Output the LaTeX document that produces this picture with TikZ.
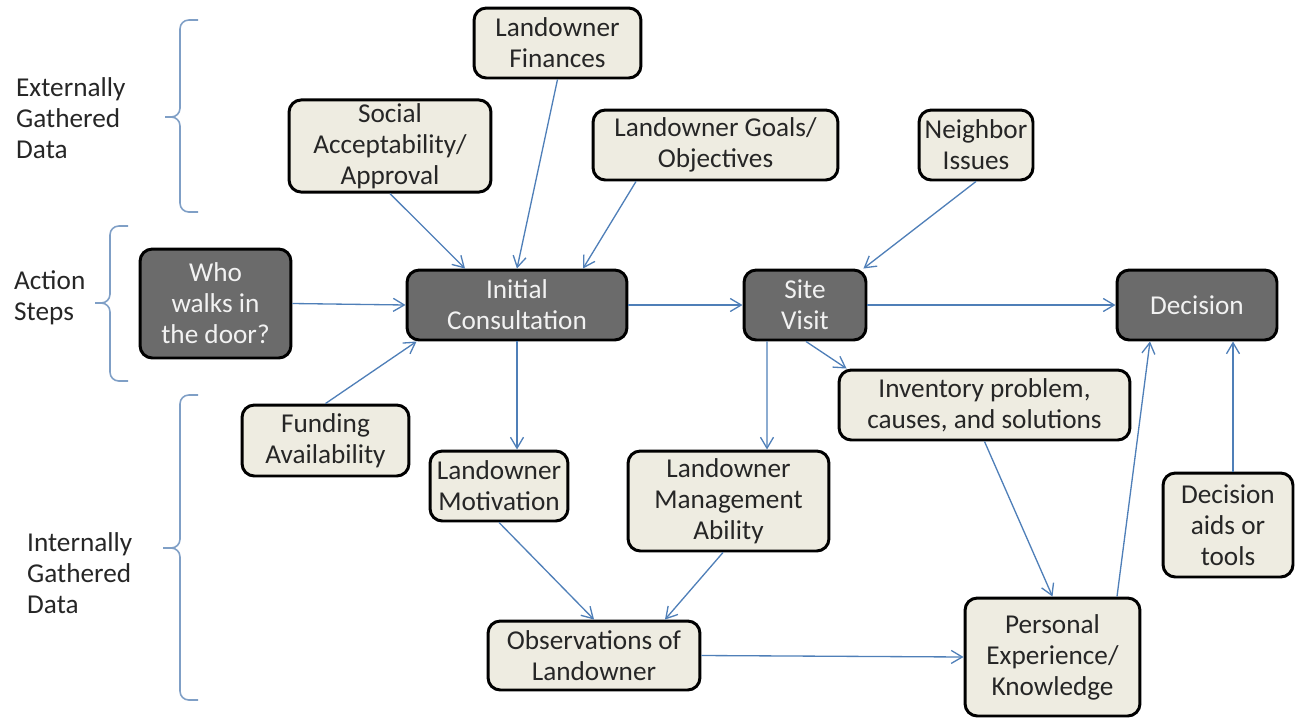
\documentclass[tikz,border=0pt]{standalone}
\usepackage{fontspec}
\setmainfont{Carlito}
\usepackage{tikz}
\usetikzlibrary{arrows.meta,calc,positioning}
\definecolor{cink}{HTML}{262626}
\definecolor{cpale}{HTML}{EEECE1}
\definecolor{cdark}{HTML}{6B6B6B}
\definecolor{clight}{HTML}{F2F2F2}
\definecolor{cline}{HTML}{4F7FB8}
\definecolor{cbrace}{HTML}{7F9FC6}

\begin{document}
\begin{tikzpicture}[x=0.02cm, y=-0.02cm,
    box/.style={draw=black, line width=1.7pt, rounded corners=7pt, fill=cpale,
      text=cink, align=center, inner sep=2pt, font=\fontsize{15.5}{17.6}\selectfont},
    act/.style={box, fill=cdark, text=clight},
    lab/.style={anchor=west, align=left, text=cink, font=\fontsize{15.5}{17.6}\selectfont},
    br/.style={draw=cbrace, line width=0.9pt, rounded corners=5pt},
    ar/.style={-{Straight Barb[length=2.2mm, width=2.6mm]}, cline, line width=0.75pt}]
  \useasboundingbox (0,0) rectangle (1296,721);

  % action steps
  \node[act, minimum width=3.02cm, minimum height=2.18cm] (who) at (215.5,303.5) {Who\\walks in\\the door?};
  \node[act, minimum width=4.4cm, minimum height=1.4cm] (init) at (517,305) {Initial\\Consultation};
  \node[act, minimum width=2.44cm, minimum height=1.4cm] (site) at (805,305) {Site\\Visit};
  \node[act, minimum width=3.2cm, minimum height=1.4cm] (dec) at (1197,305) {Decision};

  % externally gathered
  \node[box, minimum width=3.34cm, minimum height=1.4cm] (fin) at (557.5,43) {Landowner\\Finances};
  \node[box, minimum width=4.04cm, minimum height=1.84cm] (soc) at (390,146) {Social\\Acceptability/\\Approval};
  \node[box, minimum width=4.9cm, minimum height=1.4cm] (goal) at (715.5,145) {Landowner Goals/\\Objectives};
  \node[box, minimum width=2.28cm, minimum height=1.4cm] (nbr) at (976,145) {Neighbor\\Issues};

  % internally gathered
  \node[box, minimum width=3.34cm, minimum height=1.42cm] (fund) at (325.5,440.5) {Funding\\Availability};
  \node[box, minimum width=2.76cm, minimum height=1.4cm] (mot) at (499,486) {Landowner\\Motivation};
  \node[box, minimum width=4.02cm, minimum height=2cm] (mgmt) at (728.5,501) {Landowner\\Management\\Ability};
  \node[box, minimum width=5.82cm, minimum height=1.4cm] (inv) at (984.5,405) {Inventory problem,\\causes, and solutions};
  \node[box, minimum width=2.6cm, minimum height=2.08cm] (aids) at (1228,525) {Decision\\aids or\\tools};
  \node[box, minimum width=4.24cm, minimum height=1.38cm] (obs) at (594,655.5) {Observations of\\Landowner};
  \node[box, minimum width=3.5cm, minimum height=2.36cm] (pers) at (1052.5,657) {Personal\\Experience/\\Knowledge};

  % side labels and braces
  \node[lab] (lext) at (10,118) {Externally\\Gathered\\Data};
  \node[lab] (lact) at (8,298) {Action\\Steps};
  \node[lab] (lint) at (21,573) {Internally\\Gathered\\Data};
  \draw[br] (198,20) -- (180,20) -- (180,117) -- (165,117);
  \draw[br] (165,117) -- (180,117) -- (180,212) -- (198,212);
  \draw[br] (128,226) -- (110,226) -- (110,303) -- (95,303);
  \draw[br] (95,303) -- (110,303) -- (110,381) -- (128,381);
  \draw[br] (198,395) -- (180,395) -- (180,548) -- (163,548);
  \draw[br] (163,548) -- (180,548) -- (180,700) -- (198,700);

  % connectors
  \draw[ar] (who.east) -- (init.west);
  \draw[ar] (soc.south) -- ($(init.north)+(-52,0)$);
  \draw[ar] (fin.south) -- (init.north);
  \draw[ar] ($(goal.south)+(-79.5,0)$) -- ($(init.north)+(66,0)$);
  \draw[ar] (fund.north) -- ($(init.south west)+(11,0)$);
  \draw[ar] (init.east) -- (site.west);
  \draw[ar] (init.south) -- ($(mot.north)+(18,0)$);
  \draw[ar] (nbr.south) -- ($(site.north east)+(-4,0)$);
  \draw[ar] (site.east) -- (dec.west);
  \draw[ar] ($(site.south)+(-38,0)$) -- ($(mgmt.north)+(38.5,0)$);
  \draw[ar] ($(site.south)+(1,0)$) -- ($(inv.north west)+(9,0)$);
  \draw[ar] (mot.south) -- (obs.north);
  \draw[ar] ($(mgmt.south)+(-5.5,0)$) -- ($(obs.north)+(71,0)$);
  \draw[ar] (inv.south) -- (pers.north);
  \draw[ar] (obs.east) -- (pers.west);
  \draw[ar] ($(pers.north)+(64.5,0)$) -- ($(dec.south)+(-47,0)$);
  \draw[ar] ($(aids.north)+(5,0)$) -- ($(dec.south)+(36,0)$);
\end{tikzpicture}
\end{document}
